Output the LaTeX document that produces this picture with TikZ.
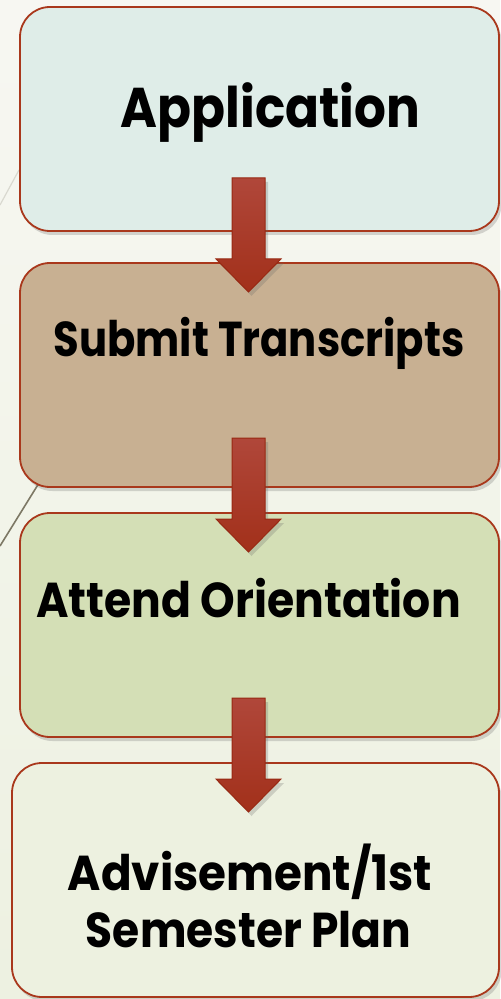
\documentclass[tikz,border=0pt]{standalone}
\usepackage{fontspec}
\usepackage{graphicx}
\setmainfont{Poppins}
\usetikzlibrary{shadows}
\definecolor{bgtop}{HTML}{F7F7F2}
\definecolor{bgbot}{HTML}{EDF1E1}
\definecolor{edge}{HTML}{A9381C}
\definecolor{cA}{HTML}{DFEDE8}
\definecolor{cB}{HTML}{C8B092}
\definecolor{cC}{HTML}{D4DFB6}
\definecolor{cD}{HTML}{EDF1E0}
\definecolor{arrtop}{HTML}{B0473A}
\definecolor{arrbot}{HTML}{A2301A}
\definecolor{arredge}{HTML}{982812}
\definecolor{lineA}{HTML}{D9D9D0}
\definecolor{lineB}{HTML}{7D7865}
\tikzset{
  stepbox/.style={draw=edge, line width=0.9pt, rounded corners=15pt, rectangle,
    drop shadow={shadow xshift=1.2pt, shadow yshift=-2pt, opacity=0.25, fill=black!60}},
  lbl/.style={font=\bfseries, text=black, inner sep=0pt, anchor=base},
  blk/.style={draw=arredge, line width=0.5pt, top color=arrtop, bottom color=arrbot,
    drop shadow={shadow xshift=1.5pt, shadow yshift=-2pt, opacity=0.25, fill=black!60}},
}
\newcommand\blockarr[3]{%
  \path[blk] (232,#1) -- (265,#1) -- (265,#2) -- (281,#2) -- (248.5,#3) -- (216,#2) -- (232,#2) -- cycle;}
\newcommand\sqz[2]{\scalebox{#1}[1]{#2}}
\begin{document}
\begin{tikzpicture}[x=0.5pt,y=-0.5pt]
\useasboundingbox (0,0) rectangle (500,999);
\fill[top color=bgtop, bottom color=bgbot] (0,0) rectangle (500,999);
% faint background lines
\coordinate (la1) at (0,205);
\coordinate (la2) at (19,170);
\coordinate (lb1) at (0,546);
\coordinate (lb2) at (39,483);
\draw[lineA, line width=0.6pt] (la1) -- (la2);
\draw[lineB, line width=0.8pt] (lb1) -- (lb2);
% boxes
\node[stepbox, fill=cA, minimum width=239.5pt, minimum height=112pt] (b1) at (259.5,119) {};
\node[stepbox, fill=cB, minimum width=239.5pt, minimum height=112pt] (b2) at (259.5,375) {};
\node[stepbox, fill=cC, minimum width=239.5pt, minimum height=112pt] (b3) at (259.5,625) {};
\node[stepbox, fill=cD, minimum width=243.5pt, minimum height=117pt] (b4) at (255.5,880) {};
% arrows
\blockarr{178}{259}{292}
\blockarr{438}{519}{552}
\blockarr{698}{779}{812}
% labels
\node[lbl, font=\bfseries\fontsize{28}{30}\selectfont] (t1) at (270.5,128) {\sqz{0.894}{Application}};
\node[lbl, font=\bfseries\fontsize{24.5}{28}\selectfont] (t2) at (259,357) {\sqz{0.852}{Submit Transcripts}};
\node[lbl, font=\bfseries\fontsize{24.5}{28}\selectfont] (t3) at (248.5,617) {\sqz{0.90}{Attend Orientation}};
\node[lbl, font=\bfseries\fontsize{24.5}{28}\selectfont] (t4) at (250,890) {\sqz{0.923}{Advisement/1st}};
\node[lbl, font=\bfseries\fontsize{24.5}{28}\selectfont] (t5) at (248.5,947) {\sqz{0.897}{Semester Plan}};
\end{tikzpicture}
\end{document}
